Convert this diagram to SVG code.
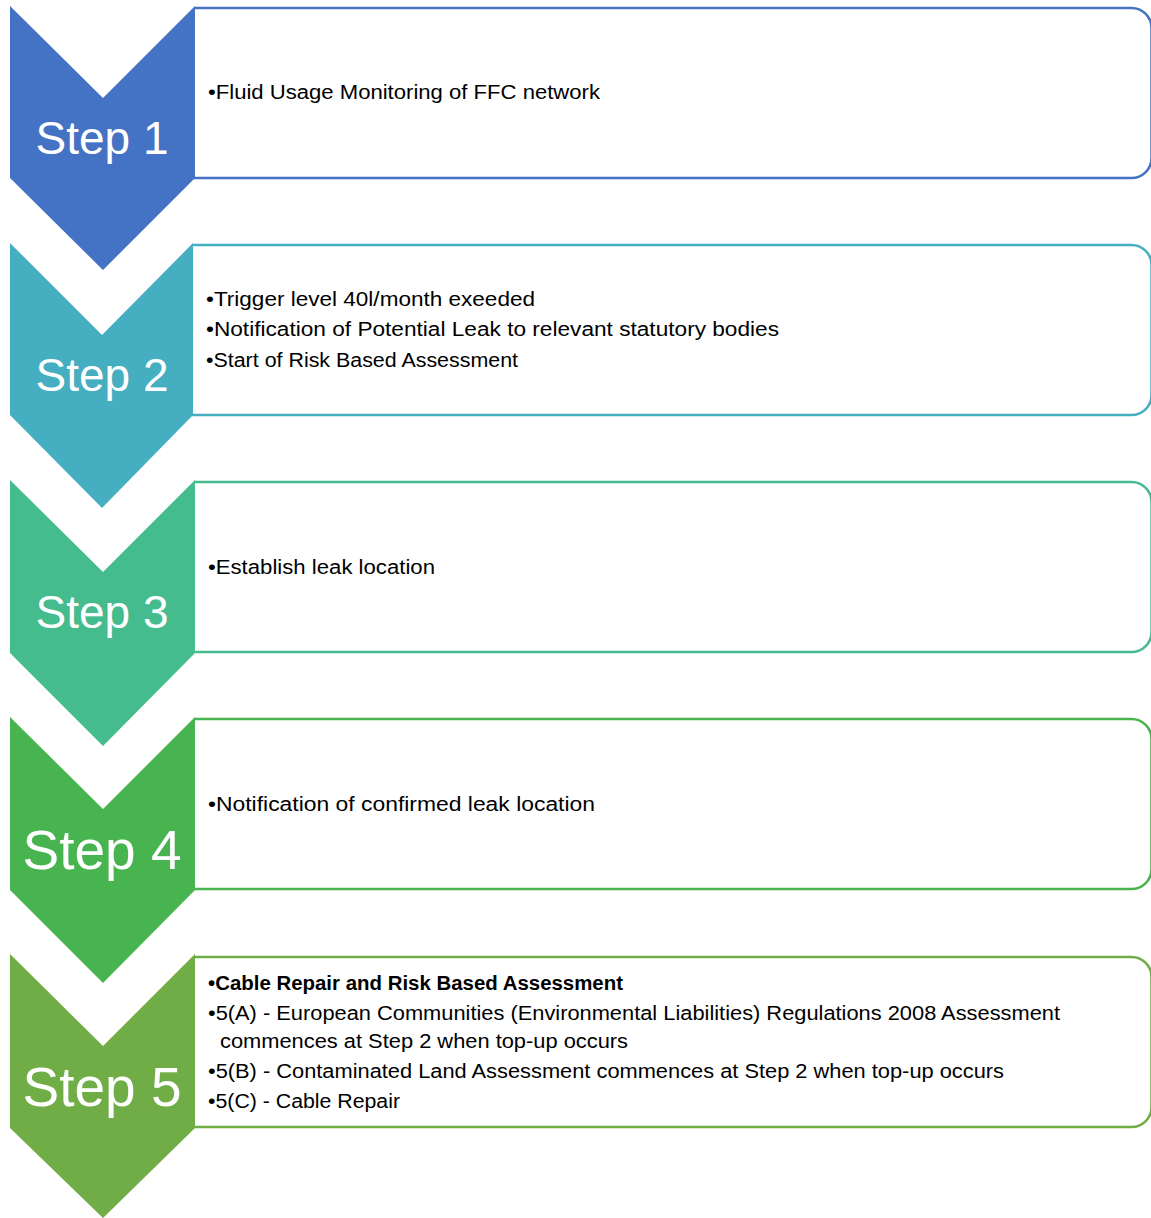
<svg xmlns="http://www.w3.org/2000/svg" width="1151" height="1218" viewBox="0 0 1151 1218">
<style>
.box{fill:#fff;stroke-width:2.5}
.lbl{font-family:"Liberation Sans",Arial,sans-serif;fill:#fff;text-anchor:middle}
.txt{font-family:"Liberation Sans",Arial,sans-serif;fill:#000;font-size:19.5px}
.b{font-weight:bold}
</style>
<rect width="1151" height="1218" fill="#fff"/>
<g id="step1">
<path class="box" stroke="#4472C4" d="M194,8 H1131 A20,20 0 0 1 1151.5,28 V158 A20,20 0 0 1 1131,178 H194"/>
<polygon fill="#4472C4" points="10,6 103,98 195,6 195,178 103,270 10,178"/>
<text class="lbl" x="102" y="154" font-size="46">Step 1</text>
<text class="txt" x="208" y="99" textLength="392" lengthAdjust="spacingAndGlyphs">•Fluid Usage Monitoring of FFC network</text>
</g>
<g id="step2">
<path class="box" stroke="#45AEC1" d="M192,245 H1131 A20,20 0 0 1 1151.5,265 V395 A20,20 0 0 1 1131,415 H192"/>
<polygon fill="#45AEC1" points="10,243 102,335 193,243 193,415 102,508 10,415"/>
<text class="lbl" x="102" y="391" font-size="46">Step 2</text>
<text class="txt" x="206" y="306" textLength="329" lengthAdjust="spacingAndGlyphs">•Trigger level 40l/month exeeded</text>
<text class="txt" x="206" y="336" textLength="573" lengthAdjust="spacingAndGlyphs">•Notification of Potential Leak to relevant statutory bodies</text>
<text class="txt" x="206" y="367" textLength="312" lengthAdjust="spacingAndGlyphs">•Start of Risk Based Assessment</text>
</g>
<g id="step3">
<path class="box" stroke="#45BC8E" d="M194,482 H1131 A20,20 0 0 1 1151.5,502 V632 A20,20 0 0 1 1131,652 H194"/>
<polygon fill="#45BC8E" points="10,480 103,572 195,480 195,653 103,746 10,653"/>
<text class="lbl" x="102" y="628" font-size="46">Step 3</text>
<text class="txt" x="208" y="574" textLength="227" lengthAdjust="spacingAndGlyphs">•Establish leak location</text>
</g>
<g id="step4">
<path class="box" stroke="#48B450" d="M194,719 H1131 A20,20 0 0 1 1151.5,739 V869 A20,20 0 0 1 1131,889 H194"/>
<polygon fill="#48B450" points="10,717 103,809 195,717 195,890 103,983 10,890"/>
<text class="lbl" x="102" y="869" font-size="55">Step 4</text>
<text class="txt" x="208" y="811" textLength="387" lengthAdjust="spacingAndGlyphs">•Notification of confirmed leak location</text>
</g>
<g id="step5">
<path class="box" stroke="#70AD47" d="M194,957 H1131 A20,20 0 0 1 1151.5,977 V1107 A20,20 0 0 1 1131,1127 H194"/>
<polygon fill="#70AD47" points="10,954 103,1046 195,954 195,1128 103,1218 10,1128"/>
<text class="lbl" x="102" y="1106" font-size="55">Step 5</text>
<text class="txt b" x="208" y="990" textLength="415" lengthAdjust="spacingAndGlyphs">•Cable Repair and Risk Based Assessment</text>
<text class="txt" x="208" y="1020" textLength="852" lengthAdjust="spacingAndGlyphs">•5(A) - European Communities (Environmental Liabilities) Regulations 2008 Assessment</text>
<text class="txt" x="220" y="1048" textLength="408" lengthAdjust="spacingAndGlyphs">commences at Step 2 when top-up occurs</text>
<text class="txt" x="208" y="1078" textLength="796" lengthAdjust="spacingAndGlyphs">•5(B) - Contaminated Land Assessment commences at Step 2 when top-up occurs</text>
<text class="txt" x="208" y="1108" textLength="192" lengthAdjust="spacingAndGlyphs">•5(C) - Cable Repair</text>
</g>
<g id="connectors"/>
</svg>
